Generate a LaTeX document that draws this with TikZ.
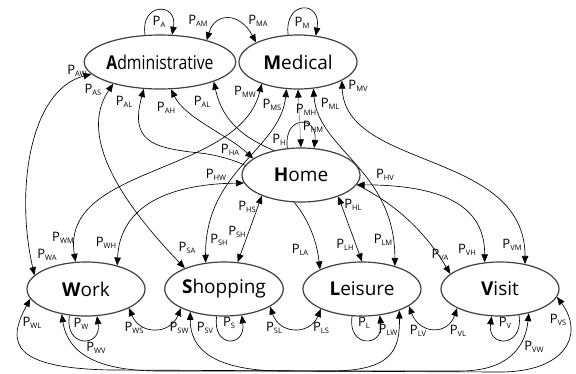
\documentclass[tikz,border=0pt]{standalone}
\usepackage{fontspec}
\setmainfont{Open Sans}
\usetikzlibrary{shapes.geometric, arrows.meta, backgrounds}
\newcommand{\tp}[1]{P\raisebox{-2pt}{\fontsize{7.5}{8}\selectfont #1}}

\begin{document}
\begin{tikzpicture}[
    x=1pt, y=-1pt,
    node distance=138pt,
    >={Triangle[length=8pt,width=6.5pt,black]},
    state/.style={ellipse, draw=black!75, line width=1.2pt, fill=white,
      minimum width=118pt, minimum height=54pt, inner sep=0pt,
      font=\fontsize{19}{22}\selectfont},
    prob/.style={font=\fontsize{13}{14}\selectfont, inner sep=0pt},
    trans/.style={<->, line width=0.65pt},
    selfloop/.style={->, line width=0.65pt}
  ]
  \useasboundingbox (0,0) rectangle (576,373);

  % Nodes for activities
  \node[state] (admin) at (160,62) {\scalebox{0.83}[1]{\textbf{A}dministrative}};
  \node[state] (medical) [right of=admin] {\textbf{M}edical};
  \node[state] (home) at (301,175) {\textbf{H}ome};
  \node[state] (work) at (86,289) {\textbf{W}ork};
  \node[state] (shopping) [right of=work] {\textbf{S}hopping};
  \node[state] (leisure) [right of=shopping] {\textbf{L}eisure};
  \node[state] (visit) [right of=leisure] {\textbf{V}isit};

  \begin{scope}[on background layer]
  % Self loops
  \draw[selfloop] (admin.119) .. controls (140,2) and (178,2) .. (admin.66)
    node[prob] (lA) at (159,22) {\tp{A}};
  \draw[selfloop] (medical.110) .. controls (284,0) and (322,0) .. (medical.56)
    node[prob] (lM) at (302,23) {\tp{M}};
  \draw[selfloop] (home.117) .. controls (283,115) and (318,115) .. (home.64)
    node[prob] (lH) at (279,140) {\tp{H}};
  \draw[selfloop] (work.238) .. controls (64,348) and (102,348) .. (work.292)
    node[prob] (lW) at (81,324) {\tp{W}};
  \draw[selfloop] (shopping.255) .. controls (212,348) and (246,348) .. (shopping.304)
    node[prob] (lS) at (229,323) {\tp{S}};
  \draw[selfloop] (leisure.250) .. controls (347,348) and (384,348) .. (leisure.304)
    node[prob] (lL) at (364,323) {\tp{L}};
  \draw[selfloop] (visit.306) .. controls (524,348) and (487,348) .. (visit.253)
    node[prob] (lV) at (505,323) {\tp{V}};

  % Administrative
  \draw[trans] (admin.25) .. controls (215,12) and (240,12) .. (medical.155)
    node[prob] (lAM) at (198,21) {\tp{AM}}
    node[prob] (lMA) at (258,21) {\tp{MA}};
  \draw[trans] (admin.190) .. controls (30,90) and (15,190) .. (work.165)
    node[prob] (lAW) at (77,71) {\tp{AW}}
    node[prob] (lWA) at (47,255) {\tp{WA}};
  \draw[trans] (admin.205) .. controls (85,125) and (100,180) .. (shopping.152)
    node[prob] (lAS) at (93,90) {\tp{AS}}
    node[prob] (lSA) at (187,248) {\tp{SA}};
  \draw[trans] (admin.292) .. controls (185,118) and (228,135) .. (home.161)
    node[prob] (lAH) at (166,108) {\tp{AH}}
    node[prob] (lHA) at (230,150) {\tp{HA}};
  \draw[trans] (admin.239) .. controls (130,140) and (150,148) .. (200,153)
    .. controls (260,160) and (312,200) .. (leisure.155)
    node[prob] (lAL) at (124,102) {\tp{AL}}
    node[prob] (lLA) at (300,250) {\tp{LA}};
  \draw[trans] (admin.340) .. controls (235,180) and (370,140) .. (visit.163)
    node[prob] (lAV) at (202,102) {\tp{AL}}
    node[prob] (lVA) at (440,255) {\tp{VA}};

  % Medical
  \draw[trans] (medical.211) .. controls (240,175) and (60,165) .. (work.111)
    node[prob] (lMW) at (245,92) {\tp{MW}}
    node[prob] (lWM) at (63,238) {\tp{WM}};
  \draw[trans] (medical.247) .. controls (280,150) and (205,170) .. (shopping.125)
    node[prob] (lMS) at (272,105) {\tp{MS}}
    node[prob] (lSM) at (219,240) {\tp{SH}};
  \draw[trans, draw=black!40] (medical.south) -- (home.north);
  \node[prob] (lMH) at (306,110) {\tp{MH}};
  \node[prob] (lHM) at (313,127) {\tp{HM}};
  \draw[trans] (medical.300) .. controls (318,150) and (395,170) .. (leisure.35)
    node[prob] (lML) at (330,104) {\tp{ML}}
    node[prob] (lLM) at (383,240) {\tp{LM}};
  \draw[trans] (medical.337) .. controls (345,170) and (525,150) .. (visit.45)
    node[prob] (lMV) at (358,86) {\tp{MV}}
    node[prob] (lVM) at (512,245) {\tp{VM}};

  % Home
  \draw[trans] (home.188) .. controls (170,184) and (120,205) .. (work.37)
    node[prob] (lHW) at (216,175) {\tp{HW}}
    node[prob] (lWH) at (106,243) {\tp{WH}};
  \draw[trans] (home.208) -- (shopping.63)
    node[prob] (lHS) at (247,207) {\tp{HS}}
    node[prob] (lSH) at (237,232) {\tp{SH}};
  \draw[trans] (home.330) -- (leisure.90)
    node[prob] (lHL) at (353,205) {\tp{HL}}
    node[prob] (lLH) at (345,245) {\tp{LH}};
  \draw[trans] (home.350) .. controls (450,185) and (485,210) .. (visit.120)
    node[prob] (lHV) at (385,175) {\tp{HV}}
    node[prob] (lVH) at (467,250) {\tp{VH}};

  % Bottom row
  \draw[trans] (work.336) .. controls (140,335) and (170,335) .. (shopping.204)
    node[prob] (lWS) at (134,328) {\tp{WS}}
    node[prob] (lSW) at (179,328) {\tp{SW}};
  \draw[trans] (shopping.339) .. controls (280,335) and (310,335) .. (leisure.206)
    node[prob] (lSL) at (274,328) {\tp{SL}}
    node[prob] (lLS) at (321,328) {\tp{LS}};
  \draw[trans] (leisure.340) .. controls (420,335) and (448,335) .. (visit.204)
    node[prob] (lLV) at (418,331) {\tp{LV}}
    node[prob] (lVL) at (458,331) {\tp{VL}};
  \draw[trans] (work.190) .. controls (5,345) and (15,368) .. (110,370)
    -- (330,371) .. controls (392,371) and (400,350) .. (leisure.330)
    node[prob] (lWL) at (32,323) {\tp{WL}}
    node[prob] (lLW) at (388,330) {\tp{LW}};
  \draw[trans] (work.226) .. controls (68,355) and (100,371) .. (160,371)
    -- (460,371) .. controls (505,371) and (525,350) .. (visit.320)
    node[prob] (lWV) at (96,348) {\tp{WV}}
    node[prob] (lVW) at (534,347) {\tp{VW}};
  \draw[trans] (shopping.214) .. controls (190,350) and (215,370) .. (280,371)
    -- (500,372) .. controls (565,372) and (585,335) .. (visit.352)
    node[prob] (lSV) at (205,328) {\tp{SV}}
    node[prob] (lVS) at (558,320) {\tp{VS}};
  \end{scope}
\end{tikzpicture}
\end{document}
